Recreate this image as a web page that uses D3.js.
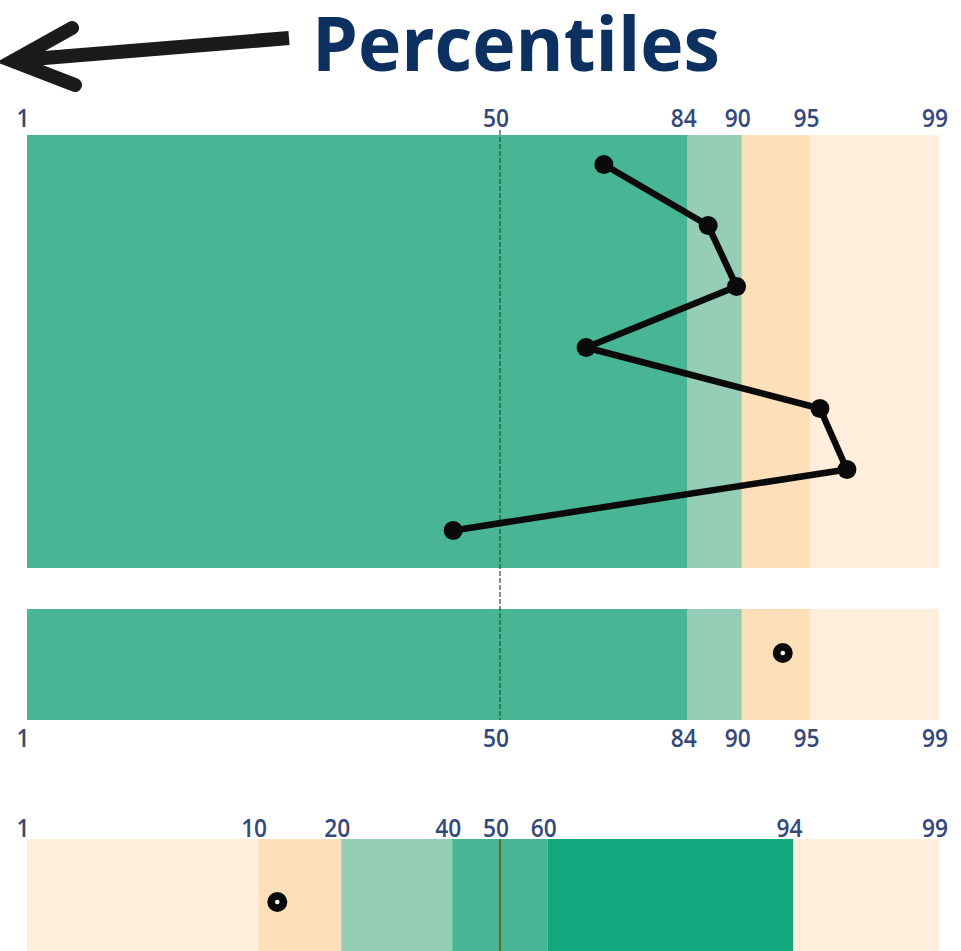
<!DOCTYPE html>
<html>
<head>
<meta charset="utf-8">
<script src="https://cdn.jsdelivr.net/npm/d3@7"></script>
<style>
  body { margin: 0; background: #fff; }
  svg { display: block; }
</style>
</head>
<body>
<div id="wrapper"></div>
<script>
// data, in percentiles
const axisStart = 0.61          // left end of the axis, labelled "1"
const axisEnd = 99
const ticksUpper = [1, 50, 84, 90, 95, 99]
const ticksLower = [1, 10, 20, 40, 50, 60, 94, 99]

const bandEdgesUpper = [axisStart, 84, 90, 95, axisEnd]
const bandEdgesLower = [axisStart, 10, 20, 40, 60, 94, axisEnd]

const profileValues = [70.9, 86.5, 89.5, 67.6, 95.5, 96.7, 40.2]
const middleValue = [93.3]
const lowerValue = [11.9]

const colors = {
    green: "#48b594",
    darkGreen: "#13a77e",
    lightGreen: "#95cdb6",
    peach: "#fde0ba",
    lightPeach: "#feeedb",
}
const upperBandColors = [colors.green, colors.lightGreen, colors.peach, colors.lightPeach]
const lowerBandColors = [colors.lightPeach, colors.peach, colors.lightGreen, colors.green, colors.darkGreen, colors.lightPeach]

// inverse normal cdf (Acklam), input in percent
function probit(pct) {
    const p = pct / 100
    const a = [-3.969683028665376e+01, 2.209460984245205e+02, -2.759285104469687e+02, 1.383577518672690e+02, -3.066479806614716e+01, 2.506628277459239e+00]
    const b = [-5.447609879822406e+01, 1.615858368580409e+02, -1.556989798598866e+02, 6.680131188771972e+01, -1.328068155288572e+01]
    const c = [-7.784894002430293e-03, -3.223964580411365e-01, -2.400758277161838e+00, -2.549732539343734e+00, 4.374664141464968e+00, 2.938163982698783e+00]
    const d = [7.784695709041462e-03, 3.224671290700398e-01, 2.445134137142996e+00, 3.754408661907416e+00]
    const pl = 0.02425
    let q, r
    if (p < pl) {
        q = Math.sqrt(-2 * Math.log(p))
        return (((((c[0]*q+c[1])*q+c[2])*q+c[3])*q+c[4])*q+c[5]) / ((((d[0]*q+d[1])*q+d[2])*q+d[3])*q+1)
    }
    if (p <= 1 - pl) {
        q = p - 0.5; r = q * q
        return (((((a[0]*r+a[1])*r+a[2])*r+a[3])*r+a[4])*r+a[5])*q / (((((b[0]*r+b[1])*r+b[2])*r+b[3])*r+b[4])*r+1)
    }
    q = Math.sqrt(-2 * Math.log(1 - p))
    return -(((((c[0]*q+c[1])*q+c[2])*q+c[3])*q+c[4])*q+c[5]) / ((((d[0]*q+d[1])*q+d[2])*q+d[3])*q+1)
}

const width = 961
const height = 951
const panels = {
    upper: { top: 135, bottom: 568 },
    middle: { top: 609, bottom: 720 },
    lower: { top: 839, bottom: 960 },
}

const zScale = d3.scaleLinear()
    .domain([probit(axisStart), probit(axisEnd)])
    .range([27, 939])
const x = p => zScale(probit(p))

const svg = d3.select("#wrapper")
    .append("svg")
    .attr("width", width)
    .attr("height", height)

// title + arrow
svg.append("path")
    .attr("d", "M72,28 L13,61 L75,85")
    .attr("fill", "none")
    .attr("stroke", "#1b1b1b")
    .attr("stroke-width", 14)
    .attr("stroke-linecap", "round")
    .attr("stroke-linejoin", "miter")
svg.append("line")
    .attr("x1", 20).attr("y1", 60)
    .attr("x2", 289).attr("y2", 38)
    .attr("stroke", "#1b1b1b")
    .attr("stroke-width", 14)

svg.append("text")
    .attr("x", 312)
    .attr("y", 71)
    .attr("textLength", 408)
    .attr("lengthAdjust", "spacingAndGlyphs")
    .attr("font-family", "'Open Sans', sans-serif")
    .attr("font-weight", 700)
    .attr("font-size", "75px")
    .attr("fill", "#0c3060")
    .text("Percentiles")

function drawBands(edges, bandColors, panel) {
    const bands = d3.pairs(edges).map((e, i) => ({ from: e[0], to: e[1], color: bandColors[i] }))
    svg.append("g")
        .selectAll("rect")
        .data(bands)
        .join("rect")
        .attr("x", d => x(d.from))
        .attr("width", d => x(d.to) - x(d.from))
        .attr("y", panel.top)
        .attr("height", panel.bottom - panel.top)
        .attr("fill", d => d.color)
}

function drawTicks(values, baseline) {
    const last = values.length - 1
    svg.append("g")
        .selectAll("text")
        .data(values)
        .join("text")
        // end ticks are pinned to the ends of the axis
        .attr("x", (d, i) => (i === 0 ? zScale.range()[0] : i === last ? zScale.range()[1] : x(d)) - 4)
        .attr("y", baseline)
        .attr("text-anchor", "middle")
        .attr("font-family", "'Open Sans', sans-serif")
        .attr("font-weight", 600)
        .attr("font-size", "25px")
        .attr("textLength", d => String(d).length * 13)
        .attr("lengthAdjust", "spacingAndGlyphs")
        .attr("fill", "#34487a")
        .text(d => d)
}

drawBands(bandEdgesUpper, upperBandColors, panels.upper)
drawBands(bandEdgesUpper, upperBandColors, panels.middle)
drawBands(bandEdgesLower, lowerBandColors, panels.lower)

// median lines
svg.append("line")
    .attr("x1", x(50)).attr("x2", x(50))
    .attr("y1", 130).attr("y2", panels.middle.bottom)
    .attr("stroke", "#2a4f22")
    .attr("stroke-width", 1.2)
    .attr("stroke-dasharray", "5,2")
svg.append("line")
    .attr("x1", x(50)).attr("x2", x(50))
    .attr("y1", panels.lower.top).attr("y2", height)
    .attr("stroke", "#5b6a2c")
    .attr("stroke-width", 2)

drawTicks(ticksUpper, 127)
drawTicks(ticksUpper, 747)
drawTicks(ticksLower, 837)

// profile line
const yRows = d3.scalePoint()
    .domain(d3.range(profileValues.length))
    .range([panels.upper.top - 4, panels.upper.bottom - 4])
    .padding(0.55)

const profile = profileValues.map((v, i) => ({ v, i }))
svg.append("path")
    .datum(profile)
    .attr("fill", "none")
    .attr("stroke", "#0a0a0a")
    .attr("stroke-width", 6.5)
    .attr("stroke-linejoin", "round")
    .attr("d", d3.line().x(d => x(d.v)).y(d => yRows(d.i)))
svg.append("g")
    .selectAll("circle")
    .data(profile)
    .join("circle")
    .attr("cx", d => x(d.v))
    .attr("cy", d => yRows(d.i))
    .attr("r", 9.5)
    .attr("fill", "#0a0a0a")

// single ring markers
function drawRing(values, cy) {
    const g = svg.append("g")
    g.selectAll(".outer")
        .data(values)
        .join("circle")
        .attr("cx", d => x(d))
        .attr("cy", cy)
        .attr("r", 10)
        .attr("fill", "#0a0a0a")
    g.selectAll(".inner")
        .data(values)
        .join("circle")
        .attr("cx", d => x(d))
        .attr("cy", cy)
        .attr("r", 2.3)
        .attr("fill", "#fff")
}
drawRing(middleValue, panels.middle.top + 44)
drawRing(lowerValue, panels.lower.top + 63)
</script>
</body>
</html>
